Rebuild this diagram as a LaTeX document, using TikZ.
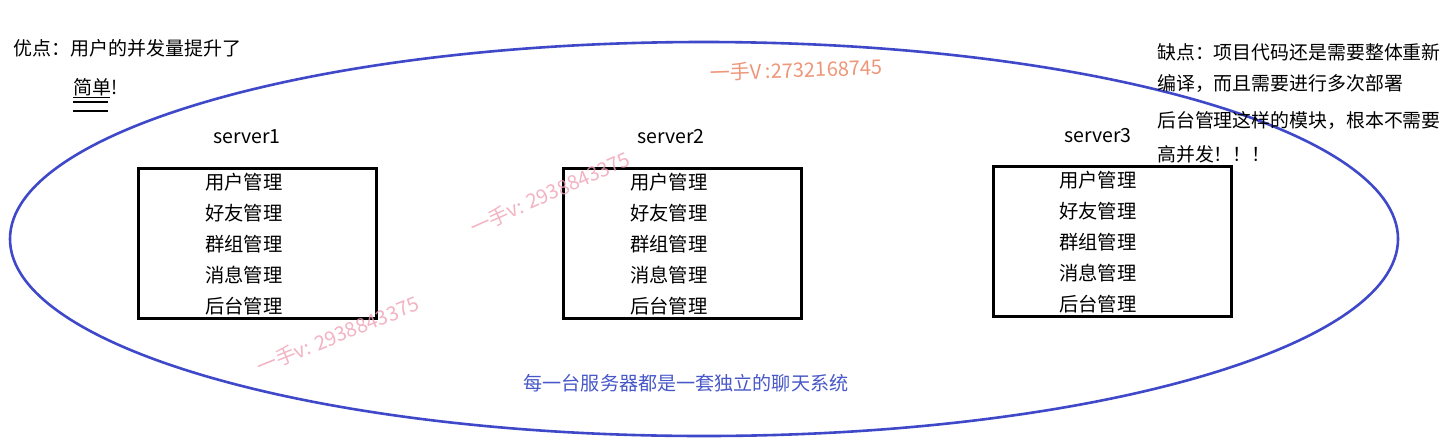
\documentclass[tikz,border=0pt]{standalone}
\usepackage{fontspec}
\setmainfont{Noto Sans CJK SC}
\definecolor{ellblue}{RGB}{62,72,200}
\definecolor{txtblue}{RGB}{72,88,200}
\definecolor{wmorange}{RGB}{238,150,120}
\definecolor{wmpink}{RGB}{240,160,180}
\begin{document}
\begin{tikzpicture}[x=1pt,y=-1pt,
  srvbox/.style={draw=black,line width=3pt,minimum width=238pt,minimum height=150pt,inner sep=0pt},
  item/.style={font=\fontsize{19.3}{19.3}\selectfont,anchor=west,inner sep=0pt},
  srvlabel/.style={font=\fontsize{19.5}{19.5}\selectfont,inner sep=0pt},
  note/.style={font=\fontsize{19}{19}\selectfont,anchor=west,inner sep=0pt},
  wm/.style={font=\fontsize{20}{20}\selectfont,inner sep=0pt}]
\useasboundingbox (0,0) rectangle (1453,442);
\fill[white] (0,0) rectangle (1453,442);
% big ellipse
\draw[ellblue,line width=2.6pt] (704,239) ellipse [x radius=694, y radius=197];
% notes
\node[note] (pro) at (13,48) {优点：用户的并发量提升了};
\node[note] (simple) at (73,87) {简单!};
\draw[line width=0.8pt] (73,97) -- (110,97);
\draw[line width=2pt] (73,102) -- (108,102);
\draw[line width=2pt] (73,111) -- (108,111);
\node[note,font=\fontsize{18.9}{18.9}\selectfont] (con1) at (1157,52) {缺点：项目代码还是需要整体重新};
\node[note,font=\fontsize{18.9}{18.9}\selectfont] (con2) at (1157,84) {编译，而且需要进行多次部署};
\node[note,font=\fontsize{18.9}{18.9}\selectfont] (con3) at (1157,121) {后台管理这样的模块，根本不需要};
\node[note,font=\fontsize{18.9}{18.9}\selectfont] (con4) at (1157,154) {高并发！！！};
% servers
\node[srvlabel] (s1) at (247,137) {server1};
\node[srvlabel] (s2) at (671,137) {server2};
\node[srvlabel] (s3) at (1098,136) {server3};
\node[srvbox] (b1) at (257.5,243) {};
\node[srvbox] (b2) at (682,243) {};
\node[srvbox] (b3) at (1112,241) {};
\foreach \x/\dy [count=\i] in {205/0,630/0,1059/-2}{
  \node[item] (m\i a) at (\x,182+\dy) {用户管理};
  \node[item] (m\i b) at (\x,213+\dy) {好友管理};
  \node[item] (m\i c) at (\x,244+\dy) {群组管理};
  \node[item] (m\i d) at (\x,275+\dy) {消息管理};
  \node[item] (m\i e) at (\x,306+\dy) {后台管理};
}
\node[font=\fontsize{19.1}{19.1}\selectfont,text=txtblue,inner sep=0pt] (caption) at (686,383) {每一台服务器都是一套独立的聊天系统};
% watermarks
\node[wm,text=wmorange,rotate=2] (wm1) at (796,70) {一手V :2732168745};
\node[wm,text=wmpink,rotate=24,opacity=0.8] (wm2) at (550,193) {一手v: 2938843375};
\node[wm,text=wmpink,rotate=22,opacity=0.8] (wm3) at (338,335) {一手v: 2938843375};
\end{tikzpicture}
\end{document}
